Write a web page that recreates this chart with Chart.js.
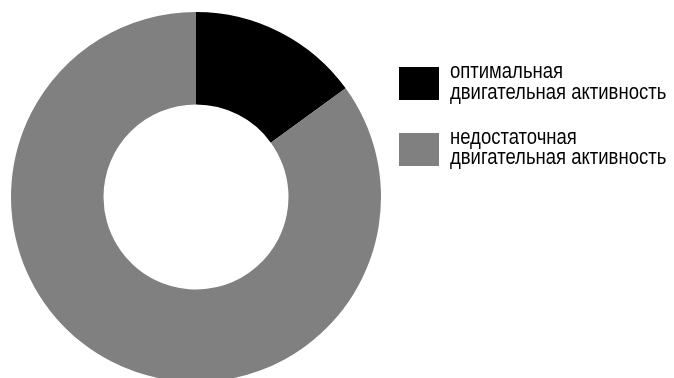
<!DOCTYPE html>
<html>
<head>
<meta charset="utf-8">
<script src="https://cdn.jsdelivr.net/npm/chart.js@4"></script>
<style>
  html, body { margin: 0; padding: 0; background: #fff; overflow: hidden; }
  #wrap { position: absolute; left: 0; top: 0; width: 674px; height: 394px; }
</style>
</head>
<body>
<div id="wrap"><canvas id="pie"></canvas></div>
<script>
// activity shares, percent
const labels = [
  ['оптимальная', 'двигательная активность'],
  ['недостаточная', 'двигательная активность']
];
const shares = [15, 85];
const colors = ['#000000', '#808080'];

// legend drawn on the right, each label split over two lines
const sideLegend = {
  id: 'sideLegend',
  afterDraw(chart) {
    const ctx = chart.ctx;
    const items = chart.data.labels;
    const bg = chart.data.datasets[0].backgroundColor;
    ctx.save();
    for (let i = 0; i < items.length; i++) {
      const top = 67 + i * 66;
      ctx.fillStyle = bg[i];
      ctx.fillRect(399, top, 40, 33);
      ctx.fillStyle = '#000';
      items[i].forEach((line, j) => {
        const base = 78 + i * 65.5 + j * 20.5;
        // the text is a bit taller than the plain font
        ctx.save();
        ctx.translate(450, base);
        ctx.scale(1, 1.2);
        ctx.font = '18.5px "Liberation Sans", Arial, sans-serif';
        ctx.textBaseline = 'alphabetic';
        ctx.fillText(line, 0, 0);
        ctx.restore();
      });
    }
    ctx.restore();
  }
};

new Chart(document.getElementById('pie'), {
  type: 'doughnut',
  data: {
    labels: labels,
    datasets: [{
      data: shares,
      backgroundColor: colors,
      borderWidth: 0
    }]
  },
  options: {
    responsive: true,
    maintainAspectRatio: false,
    animation: false,
    cutout: '50%',
    layout: {
      padding: { left: 11, top: 12, right: 293, bottom: 12 }
    },
    plugins: {
      legend: { display: false },
      tooltip: { enabled: false }
    }
  },
  plugins: [sideLegend]
});
</script>
</body>
</html>
